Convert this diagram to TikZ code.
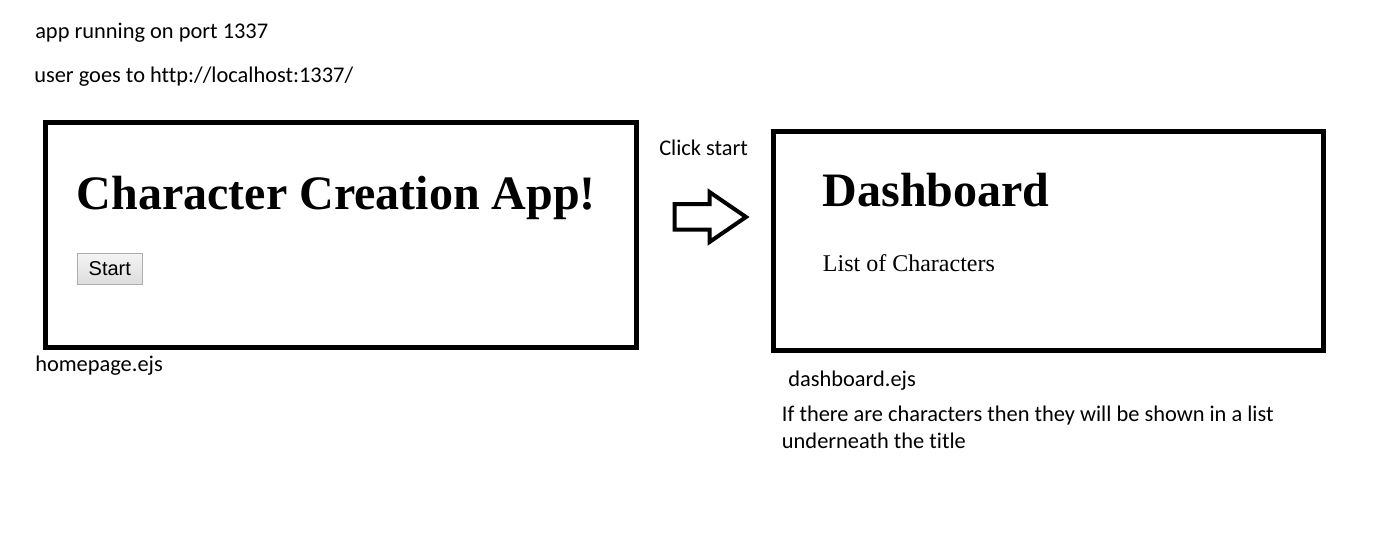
\documentclass[tikz,border=0pt]{standalone}
\usepackage{fontspec}
\setmainfont{Liberation Serif}
\newfontfamily\notefont[Ligatures=NoCommon]{Carlito}
\newfontfamily\btnfont{Liberation Sans}
\usetikzlibrary{positioning}
\definecolor{btnline}{HTML}{ADADAD}
\definecolor{btntop}{HTML}{F4F4F4}
\definecolor{btnbottom}{HTML}{DDDDDD}
\tikzstyle{note} = [anchor=base west, inner sep=0pt, font=\notefont\fontsize{16.8pt}{20pt}\selectfont]
\tikzstyle{page} = [rectangle, anchor=north west, line width=3.75pt, draw=black, inner sep=0pt, outer sep=0pt]
\tikzstyle{heading} = [anchor=base west, inner sep=0pt, font=\bfseries\fontsize{36pt}{40pt}\selectfont]
\tikzstyle{body} = [anchor=base west, inner sep=0pt, font=\fontsize{18pt}{22pt}\selectfont]
\tikzstyle{button} = [rectangle, draw=btnline, line width=0.75pt, top color=btntop, bottom color=btnbottom, minimum width=48.75pt, minimum height=23.25pt, inner sep=0pt, font=\btnfont\fontsize{15pt}{18pt}\selectfont]
\tikzstyle{bigarrow} = [line width=3pt, draw=black, fill=white, line join=miter]

\begin{document}
\begin{tikzpicture}[x=0.75pt, y=-0.75pt]
      \useasboundingbox (0,0) rectangle (1400,533);

      % notes at the top
      \node (port) [note] at (35,38) {app running on port 1337};
      \node (url) [note] at (34,82.7) {user goes to http://localhost:1337/};

      % homepage
      \node (home) [page, minimum width=442.875pt, minimum height=168.75pt] at (45.5,122.5) {};
      \node (title) [heading] at (76.7,209.3) {Character Creation App!};
      \node (start) [button] at (109.8,268.7) {Start};
      \node (homefile) [note] at (35,371) {homepage.ejs};

      % click arrow
      \node (click) [note] at (659,155) {Click start};
      \draw [bigarrow] (674.5,204) -- (709.5,204) -- (709.5,192) -- (746,217)
            -- (709.5,242) -- (709.5,229.5) -- (674.5,229.5) -- cycle;

      % dashboard
      \node (dash) [page, minimum width=412.5pt, minimum height=163.875pt] at (773.5,131.5) {};
      \node (dashtitle) [heading] at (822.7,206.7) {Dashboard};
      \node (list) [body] at (822.7,271.7) {List of Characters};
      \node (dashfile) [note] at (788,386) {dashboard.ejs};
      \node (hint) [note] at (781.7,421.7) {If there are characters then they will be shown in a list};
      \node (hint2) [note] at (781.7,448.3) {underneath the title};
\end{tikzpicture}
\end{document}
